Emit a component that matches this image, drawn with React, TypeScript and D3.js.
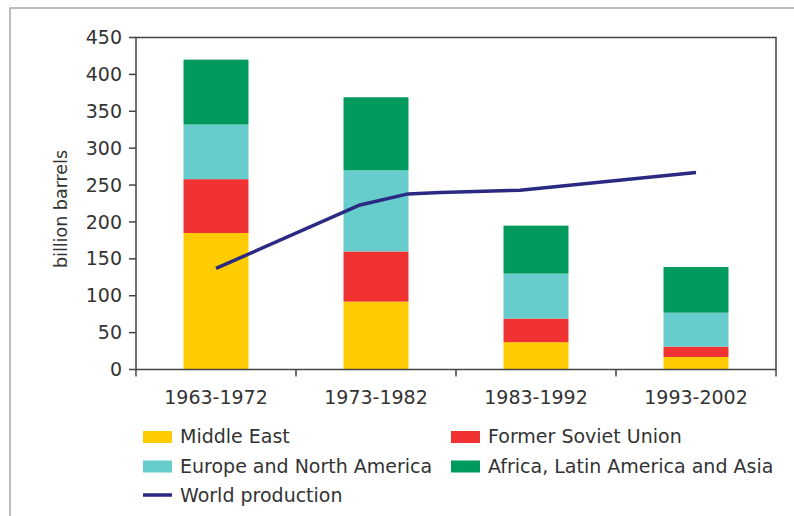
import React from "react";
import * as d3 from "d3";

const periods = ["1963-1972", "1973-1982", "1983-1992", "1993-2002"];
const regions = ["Middle East", "Former Soviet Union", "Europe and North America", "Africa, Latin America and Asia"];
const middleEast = [185, 92, 37, 17];
const formerSoviet = [73, 68, 32, 14];
const europeNA = [74, 110, 61, 46];
const africaLatAsia = [88, 99, 65, 62];
const prodYears = [1968, 1977, 1980, 1982, 1987, 1998];
const prodValues = [137, 223, 238, 240, 243, 267];
const yTicks = [0, 50, 100, 150, 200, 250, 300, 350, 400, 450];

const colors = ["#ffcc00", "#f03232", "#66cccc", "#00995e"];
const lineColor = "#2b2a82";
const font = "'DejaVu Sans', sans-serif";
const textColor = "#333";

const W = 794, H = 516;
const left = 136, right = 776, top = 37.5, bottom = 369.5;

export default function App() {
  const x = d3.scaleBand().domain(periods).range([left, right]).padding(0);
  const y = d3.scaleLinear().domain([0, 450]).range([bottom, top]);
  const xYear = d3.scaleLinear().domain([1963, 2003]).range([left, right]);
  const barW = x.bandwidth() * 0.406;

  const rows = periods.map((p, i) => ({
    period: p,
    r0: middleEast[i],
    r1: formerSoviet[i],
    r2: europeNA[i],
    r3: africaLatAsia[i],
  }));
  const series = d3.stack<any>().keys(["r0", "r1", "r2", "r3"])(rows);

  const prod = prodYears.map((yr, i) => [yr, prodValues[i]] as [number, number]);
  const line = d3.line<[number, number]>().x(d => xYear(d[0])).y(d => y(d[1]));

  const legend = [
    { label: regions[0], kind: "box", color: colors[0], col: 0, row: 0 },
    { label: regions[1], kind: "box", color: colors[1], col: 1, row: 0 },
    { label: regions[2], kind: "box", color: colors[2], col: 0, row: 1 },
    { label: regions[3], kind: "box", color: colors[3], col: 1, row: 1 },
    { label: "World production", kind: "line", color: lineColor, col: 0, row: 2 },
  ];
  const colX = [143, 451];

  return (
    <svg width={W} height={H} style={{ position: "absolute", left: 0, top: 0, background: "#fff" }}>
      <rect x={10} y={8} width={W} height={H} fill="#fff" stroke="#a8a8a8" strokeWidth={1.5} />

      {series.map((s, k) => (
        <g key={k} fill={colors[k]}>
          {s.map((d, i) => (
            <rect
              key={i}
              x={x(d.data.period)! + (x.bandwidth() - barW) / 2}
              y={y(d[1])}
              width={barW}
              height={y(d[0]) - y(d[1])}
            />
          ))}
        </g>
      ))}

      <path d={line(prod)!} fill="none" stroke={lineColor} strokeWidth={3.5} strokeLinejoin="round" />

      {/* plot frame */}
      <rect x={left} y={top} width={right - left} height={bottom - top} fill="none" stroke="#444" strokeWidth={1.5} />

      {yTicks.map(t => (
        <g key={t} transform={`translate(0,${y(t)})`}>
          <line x1={left - 7} x2={left} stroke="#444" strokeWidth={1.5} />
          <text x={122} dy="0.35em" textAnchor="end" fontFamily={font} fontSize={19} fill={textColor}>{t}</text>
        </g>
      ))}

      {[...periods.map(p => x(p)!), right].map((v, i) => (
        <line key={i} x1={v} x2={v} y1={bottom} y2={bottom + 7} stroke="#444" strokeWidth={1.5} />
      ))}
      {periods.map(p => (
        <text key={p} x={x(p)! + x.bandwidth() / 2} y={404} textAnchor="middle" fontFamily={font} fontSize={19} fill={textColor}>{p}</text>
      ))}

      <text transform={`translate(67,209) rotate(-90)`} textAnchor="middle" fontFamily={font} fontSize={17.5} fill={textColor}>billion barrels</text>

      {legend.map((l, i) => {
        const lx = colX[l.col];
        const base = 443 + l.row * 29.5;
        return (
          <g key={i}>
            {l.kind === "box" ? (
              <rect x={lx} y={base - 12} width={29} height={12} fill={l.color} />
            ) : (
              <line x1={lx} x2={lx + 29} y1={base - 7} y2={base - 7} stroke={l.color} strokeWidth={3.5} />
            )}
            <text x={lx + 37} y={base} fontFamily={font} fontSize={19} fill={textColor}>{l.label}</text>
          </g>
        );
      })}
    </svg>
  );
}
